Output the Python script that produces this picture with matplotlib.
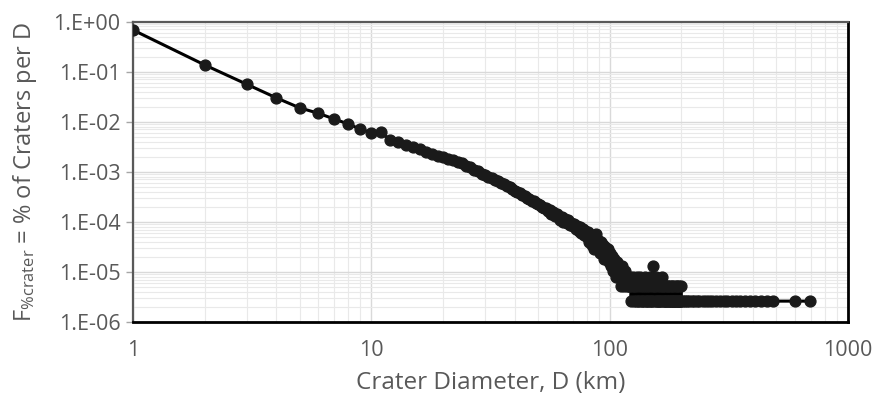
import matplotlib
matplotlib.use("Agg")
import matplotlib.pyplot as plt
import numpy as np

# crater counts per integer diameter D = 1..200 km
counts_1_200 = [
    262000, 52400, 21600, 11500, 7300, 5660, 4350, 3460, 2730, 2310,
    2350, 1650, 1500, 1310, 1195, 1080, 960, 885, 810, 770,
    700, 650, 590, 570, 500, 470, 415, 400, 350, 330,
    300, 290, 260, 250, 228, 220, 198, 190, 172, 162,
    150, 143, 131, 126, 115, 110, 100, 99, 90, 86,
    82, 76, 72, 74, 62, 66, 56, 61, 50, 54,
    49, 42, 47, 39, 44, 36, 41, 33, 37, 31,
    35, 28, 32, 25, 30, 23, 27, 21, 25, 19,
    24, 15, 21, 13, 19, 11, 17, 22, 12, 16,
    9, 15, 10, 13, 7, 12, 8, 11, 6, 9,
    5, 8, 4, 7, 6, 3, 6, 4, 5, 3,
    4, 2, 5, 3, 2, 4, 3, 2, 3, 2,
    2, 3, 1, 2, 3, 1, 2, 2, 1, 3,
    1, 2, 1, 3, 2, 1, 1, 2, 1, 2,
    3, 1, 2, 1, 1, 2, 1, 3, 1, 2,
    1, 5, 2, 1, 2, 1, 3, 1, 2, 1,
    1, 2, 1, 1, 2, 3, 1, 2, 1, 1,
    2, 1, 1, 2, 1, 2, 1, 1, 2, 1,
    1, 2, 1, 1, 2, 1, 1, 1, 2, 1,
    1, 2, 1, 1, 1, 2, 1, 1, 2, 1,
]
# single craters at the large end
tail_diameters = [203, 207, 211, 216, 221, 226, 232, 238, 246, 253, 261, 270,
                  279, 290, 301, 312, 325, 338, 352, 370, 388, 408, 430, 455,
                  483, 598, 693]
tail_counts = [1] * len(tail_diameters)
total_craters = 385000

x_ticks = [1, 10, 100, 1000]
x_tick_labels = ['1', '10', '100', '1000']
y_ticks = [1e-6, 1e-5, 1e-4, 1e-3, 1e-2, 1e-1, 1e0]
y_tick_labels = ['1.E-06', '1.E-05', '1.E-04', '1.E-03', '1.E-02', '1.E-01', '1.E+00']

diam = np.concatenate([np.arange(1, len(counts_1_200) + 1), tail_diameters])
frac = np.concatenate([counts_1_200, tail_counts]) / total_craters

plt.rcParams['font.family'] = ['Open Sans', 'DejaVu Sans']
plt.rcParams['mathtext.default'] = 'regular'
gray = '#595959'

fig = plt.figure(figsize=(8.72, 3.93), dpi=100, facecolor='white')
ax = fig.add_axes([0.1525, 0.181, 0.820, 0.764])

ax.plot(diam, frac, color='black', linewidth=2.2, marker='o',
        markersize=7.8, markerfacecolor='#1a1a1a', markeredgecolor='#1a1a1a',
        zorder=3)

ax.set_xscale('log')
ax.set_yscale('log')
ax.set_xlim(1, 1000)
ax.set_ylim(1e-6, 1)

ax.set_xticks(x_ticks)
ax.set_xticklabels(x_tick_labels)
ax.set_yticks(y_ticks)
ax.set_yticklabels(y_tick_labels)

ax.grid(which='major', color='#d9d9d9', linewidth=1.0, zorder=0)
ax.grid(which='minor', color='#e9e9e9', linewidth=0.8, zorder=0)
ax.set_axisbelow(True)

ax.tick_params(axis='x', which='both', length=0, labelsize=15.5, labelcolor=gray, pad=13)
ax.tick_params(axis='y', which='major', length=5, width=1, color='#a6a6a6',
               labelsize=15.5, labelcolor=gray, pad=4)
ax.tick_params(axis='y', which='minor', length=0)

for side in ['left', 'top']:
    ax.spines[side].set_color(gray)
    ax.spines[side].set_linewidth(1.6)
for side in ['bottom', 'right']:
    ax.spines[side].set_color('black')
    ax.spines[side].set_linewidth(2.0)

ax.set_xlabel('Crater Diameter, D (km)', fontsize=17.5, color=gray, labelpad=7)
ax.set_ylabel(r'F$_{\%crater}$ = % of Craters per D', fontsize=17, color=gray, labelpad=10)

fig.savefig('out.png', dpi=100, facecolor='white')
